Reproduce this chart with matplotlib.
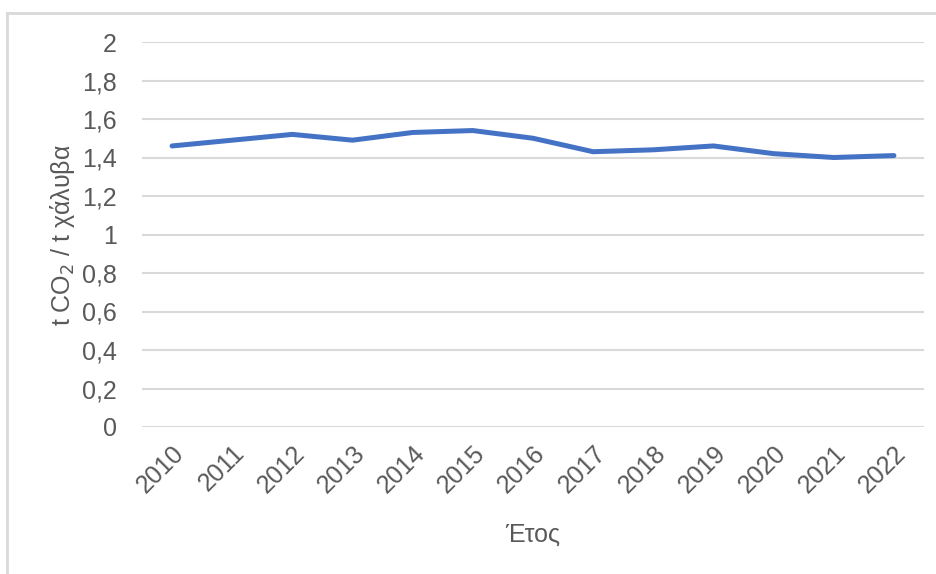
import matplotlib.pyplot as plt
from matplotlib.lines import Line2D

years = ["2010", "2011", "2012", "2013", "2014", "2015", "2016",
         "2017", "2018", "2019", "2020", "2021", "2022"]
co2_per_t_steel = [1.46, 1.49, 1.52, 1.49, 1.53, 1.54, 1.50,
                   1.43, 1.44, 1.46, 1.42, 1.40, 1.41]
y_ticks = [0, 0.2, 0.4, 0.6, 0.8, 1, 1.2, 1.4, 1.6, 1.8, 2]

plt.rcParams["font.family"] = ["Liberation Sans", "DejaVu Sans"]
text_color = "#595959"
grid_color = "#D9D9D9"

fig = plt.figure(figsize=(9.37, 5.74), dpi=100)
ax = fig.add_axes([142 / 937, 147 / 574, 782 / 937, 385 / 574])

x = range(len(years))
ax.plot(x, co2_per_t_steel, color="#4472C4", linewidth=3.6,
        solid_capstyle="round", solid_joinstyle="round", zorder=3)

ax.set_xlim(-0.5, len(years) - 0.5)
ax.set_ylim(0, 2)
ax.set_yticks(y_ticks)
ax.set_yticklabels([f"{v:g}".replace(".", ",") for v in y_ticks])
ax.set_xticks(list(x))
ax.set_xticklabels(years, rotation=45, ha="right", rotation_mode="anchor")

ax.grid(axis="y", color=grid_color, linewidth=1.5)
ax.set_axisbelow(True)
for s in ax.spines.values():
    s.set_visible(False)
ax.tick_params(axis="both", length=0, labelsize=18, colors=text_color)
ax.tick_params(axis="y", pad=18)
ax.tick_params(axis="x", pad=10)

ax.set_ylabel("t CO$_2$ / t χάλυβα", fontsize=18, color=text_color, labelpad=4)
ax.set_xlabel("Έτος", fontsize=18, color=text_color, labelpad=18)

# light frame on the top and left edges of the chart area
fig.add_artist(Line2D([7 / 937, 1.0], [1 - 13 / 574, 1 - 13 / 574],
                      transform=fig.transFigure, color=grid_color, linewidth=2))
fig.add_artist(Line2D([7 / 937, 7 / 937], [0, 1 - 13 / 574],
                      transform=fig.transFigure, color=grid_color, linewidth=2))

fig.savefig("out.png", dpi=100)
